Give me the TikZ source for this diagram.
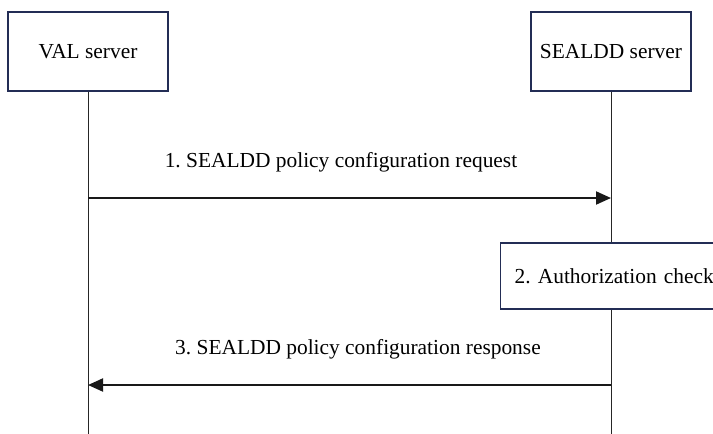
\documentclass[tikz,border=0pt]{standalone}
\usepackage{fontspec}
\setmainfont{Liberation Serif}
\usetikzlibrary{arrows.meta, positioning, calc}
\definecolor{boxline}{RGB}{35,45,85}
\frenchspacing

\begin{document}
\begin{tikzpicture}[x=0.5pt, y=-0.5pt,
    entity/.style={draw=boxline, line width=0.7pt, fill=white, minimum width=80pt, minimum height=39.5pt, inner sep=0pt, font=\fontsize{10.7}{13}\selectfont},
    actbox/.style={draw=boxline, line width=0.7pt, fill=white, text width=112pt, minimum height=33pt, inner xsep=7pt, inner ysep=0pt, align=left, font=\fontsize{10.7}{13}\selectfont},
    lifeline/.style={line width=0.5pt, black!85},
    msg/.style={line width=1pt, black!90, -{Triangle[length=7.5pt, width=6.5pt]}},
    msglabel/.style={font=\fontsize{10.7}{13}\selectfont}]
  \useasboundingbox (0,0) rectangle (713,434);
  \clip (0,0) rectangle (713,434);

  % Entities
  \node[entity] (val) at (88,51.5) {VAL server};
  \node[entity] (sealdd) at (611,51.5) {SEALDD server};

  % Lifelines
  \coordinate (valend) at (val |- 0,440);
  \coordinate (sealddend) at (sealdd |- 0,440);
  \draw[lifeline] (val.south) -- (valend);
  \draw[lifeline] (sealdd.south) -- (sealddend);

  % 1. request
  \coordinate (m1) at (0,198);
  \draw[msg] (val |- m1) -- (sealdd |- m1);
  \node[msglabel] (l1) at (341,162) {1. SEALDD policy configuration request};

  % 2. authorization check
  \node[actbox, anchor=west] (auth) at (500,276) {2. Authorization check};

  % 3. response
  \coordinate (m3) at (0,385);
  \draw[msg] (sealdd |- m3) -- (val |- m3);
  \node[msglabel] (l3) at (358,349) {3. SEALDD policy configuration response};
\end{tikzpicture}
\end{document}
